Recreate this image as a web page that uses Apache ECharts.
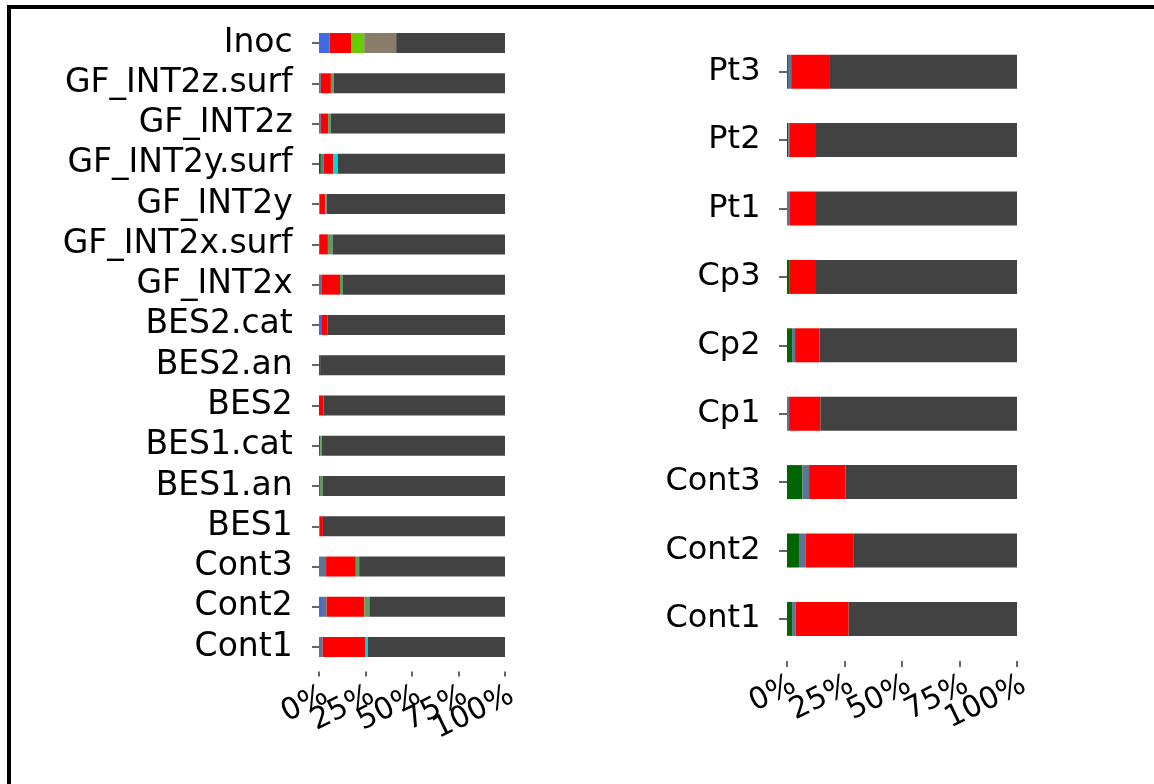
<!DOCTYPE html>
<html>
<head>
<meta charset="utf-8">
<script src="https://cdn.jsdelivr.net/npm/echarts@6/dist/echarts.min.js"></script>
<style>
html,body{margin:0;padding:0;background:#fff;}
#c{width:1154px;height:784px;}
</style>
</head>
<body>
<div id="c"></div>
<script>
// ---- data ----
const leftCategories = ['Inoc','GF_INT2z.surf','GF_INT2z','GF_INT2y.surf','GF_INT2y','GF_INT2x.surf','GF_INT2x','BES2.cat','BES2.an','BES2','BES1.cat','BES1.an','BES1','Cont3','Cont2','Cont1'];
const rightCategories = ['Pt3','Pt2','Pt1','Cp3','Cp2','Cp1','Cont3','Cont2','Cont1'];
const tickLabels = ['0%','25%','50%','75%','100%'];

// left panel (percent)
const leftDarkGreen = [0,0,0,1.0,0,0,0,0,0,0,0,0,0,0,0,0];
const leftBlue      = [5.7,0,0,0,0,0.5,0,1.6,0,0,0,0,0,0,1.6,0];
const leftSlate     = [0,1.0,1.0,1.6,0.3,0,1.6,0,0,0,0,0,0.4,3.8,2.5,2.0];
const leftRed       = [11.6,5.4,3.9,5.2,3.0,4.3,9.7,2.9,0.6,2.5,0.6,0.5,1.7,16.0,20.3,23.1];
const leftLimeGreen = [7.0,0,0,0,0,0,0,0,0,0,0,0,0,0,0,0];
const leftTan       = [17.2,0,0,0,0,0,0,0,0,0,0,0,0,0,0,0];
const leftSeaGreen  = [0,1.6,1.4,0,0,2.5,1.6,0,0,0,0.8,1.4,0,1.8,2.7,0];
const leftCyan      = [0,0,0,2.3,0.7,0,0,0,0,0,0,0,0,0,0,1.1];
const leftOthers    = [58.5,92.0,93.7,89.9,96.0,92.7,87.1,95.5,99.4,97.5,98.6,98.1,97.9,78.4,72.9,73.8];

// right panel (percent)
const rightDarkGreen = [0.4,0.6,0,1.2,2.2,0,6.7,5.2,2.2];
const rightSlate     = [1.4,0.7,1.0,0,1.3,0.9,2.9,3.0,1.6];
const rightRed       = [16.5,10.9,11.2,11.0,10.6,13.6,15.9,20.6,23.0];
const rightOthers    = [81.7,87.8,87.8,87.8,85.9,85.5,74.5,71.2,73.2];

// ---- chart ----
const FONT = 'DejaVu Sans';
const colors = {
  darkgreen:'#006400', blue:'#4169E1', slate:'#5D7592', red:'#FF0000',
  lime:'#66CD00', tan:'#8B7D6B', seagreen:'#5E9B5E', cyan:'#00D8E0', others:'#424242'
};

// value axes for the bars (ggplot-like 5% expansion on each side)
function valueAxis(gridIndex){
  return {gridIndex, type:'value', min:-5, max:105, show:false};
}
// category axis carrying the percentage tick labels
function labelAxis(gridIndex, tickLen){
  return {
    gridIndex, type:'category', data:tickLabels, boundaryGap:false, position:'bottom',
    axisLine:{show:false}, splitLine:{show:false},
    axisTick:{show:true, interval:0, length:tickLen, lineStyle:{color:'#333', width:1.5}},
    axisLabel:{interval:0, rotate:26, margin:26, fontFamily:FONT, fontSize:30, color:'#000',
      padding:[0,-8,0,0]}
  };
}
function catAxis(gridIndex, cats, tickLen, margin, fs){
  return {
    gridIndex, type:'category', data:cats, inverse:true,
    axisLine:{show:false},
    axisTick:{show:true, alignWithLabel:true, interval:0, length:tickLen, lineStyle:{color:'#333', width:1.5}},
    axisLabel:{interval:0, hideOverlap:false, fontFamily:FONT, fontSize:fs, color:'#000', margin}
  };
}
function seg(name, data, color, xi, bw){
  return {
    name, type:'bar', stack:'s'+xi, xAxisIndex:xi, yAxisIndex:xi, data,
    barWidth:bw, itemStyle:{color}, silent:true, animation:false
  };
}

const chart = echarts.init(document.getElementById('c'), null, {renderer:'canvas'});
chart.setOption({
  animation:false,
  backgroundColor:'#fff',
  grid:[
    {left:309.7, width:204.6, top:22.9, height:644.3},
    {left:775.5, width:253, top:37.5, height:615.6},
    {left:319, width:186, top:22.9, height:648.5},
    {left:787, width:230, top:37.5, height:623.5}
  ],
  xAxis:[valueAxis(0), valueAxis(1), labelAxis(2,5), labelAxis(3,6)],
  yAxis:[
    catAxis(0, leftCategories, 7, 17, 33),
    catAxis(1, rightCategories, 8, 15, 32),
    {gridIndex:2, type:'value', show:false, min:0, max:1},
    {gridIndex:3, type:'value', show:false, min:0, max:1}
  ],
  graphic:[{type:'rect', shape:{x:9, y:7, width:1300, height:900},
    style:{fill:'none', stroke:'#000', lineWidth:4}, silent:true}],
  series:[
    seg('darkgreen', leftDarkGreen, colors.darkgreen, 0, 20),
    seg('blue', leftBlue, colors.blue, 0, 20),
    seg('slate', leftSlate, colors.slate, 0, 20),
    seg('red', leftRed, colors.red, 0, 20),
    seg('lime', leftLimeGreen, colors.lime, 0, 20),
    seg('tan', leftTan, colors.tan, 0, 20),
    seg('seagreen', leftSeaGreen, colors.seagreen, 0, 20),
    seg('cyan', leftCyan, colors.cyan, 0, 20),
    seg('others', leftOthers, colors.others, 0, 20),
    seg('darkgreen', rightDarkGreen, colors.darkgreen, 1, 34),
    seg('slate', rightSlate, colors.slate, 1, 34),
    seg('red', rightRed, colors.red, 1, 34),
    seg('others', rightOthers, colors.others, 1, 34)
  ]
});
</script>
</body>
</html>
